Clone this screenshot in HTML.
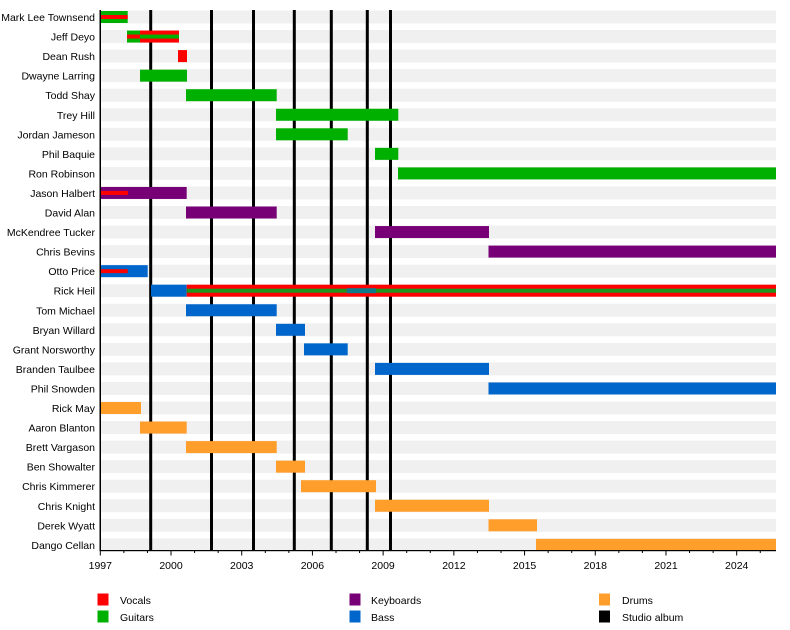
<!DOCTYPE html>
<html>
<head>
<meta charset="utf-8">
<style>
  html,body{margin:0;padding:0;background:#fff;}
  svg{display:block;}
  text{font-family:"Liberation Sans",Arial,sans-serif;font-size:10.5px;fill:#000;}
</style>
</head>
<body>
<svg width="790" height="630" viewBox="0 0 790 630" xmlns="http://www.w3.org/2000/svg">
  <!-- background stripes -->
  <g fill="#f0f0f0">
    <rect x="100" y="10.5" width="676" height="13"/>
    <rect x="100" y="30.05" width="676" height="13"/>
    <rect x="100" y="49.6" width="676" height="13"/>
    <rect x="100" y="69.15" width="676" height="13"/>
    <rect x="100" y="88.7" width="676" height="13"/>
    <rect x="100" y="108.25" width="676" height="13"/>
    <rect x="100" y="127.8" width="676" height="13"/>
    <rect x="100" y="147.35" width="676" height="13"/>
    <rect x="100" y="166.9" width="676" height="13"/>
    <rect x="100" y="186.45" width="676" height="13"/>
    <rect x="100" y="206" width="676" height="13"/>
    <rect x="100" y="225.55" width="676" height="13"/>
    <rect x="100" y="245.1" width="676" height="13"/>
    <rect x="100" y="264.65" width="676" height="13"/>
    <rect x="100" y="284.2" width="676" height="13"/>
    <rect x="100" y="303.75" width="676" height="13"/>
    <rect x="100" y="323.3" width="676" height="13"/>
    <rect x="100" y="342.85" width="676" height="13"/>
    <rect x="100" y="362.4" width="676" height="13"/>
    <rect x="100" y="381.95" width="676" height="13"/>
    <rect x="100" y="401.5" width="676" height="13"/>
    <rect x="100" y="421.05" width="676" height="13"/>
    <rect x="100" y="440.6" width="676" height="13"/>
    <rect x="100" y="460.15" width="676" height="13"/>
    <rect x="100" y="479.7" width="676" height="13"/>
    <rect x="100" y="499.25" width="676" height="13"/>
    <rect x="100" y="518.8" width="676" height="13"/>
    <rect x="100" y="538.35" width="676" height="13"/>
  </g>

  <!-- studio album lines -->
  <g fill="#000">
    <rect x="149.2" y="10" width="3" height="540"/>
    <rect x="210" y="10" width="3" height="540"/>
    <rect x="252" y="10" width="3" height="540"/>
    <rect x="292.8" y="10" width="3" height="540"/>
    <rect x="329.8" y="10" width="3" height="540"/>
    <rect x="365.8" y="10" width="3" height="540"/>
    <rect x="389" y="10" width="3" height="540"/>
  </g>

  <!-- bars -->
  <rect x="100" y="11" width="27.7" height="12" fill="#00b000"/>
  <rect x="100" y="15" width="27.7" height="4" fill="#ff0000"/>
  <rect x="127" y="30.55" width="13" height="12" fill="#00b000"/>
  <rect x="127" y="34.55" width="13" height="4" fill="#ff0000"/>
  <rect x="140" y="30.55" width="39" height="12" fill="#ff0000"/>
  <rect x="140" y="34.55" width="39" height="4" fill="#00b000"/>
  <rect x="178" y="50.1" width="9" height="12" fill="#ff0000"/>
  <rect x="140" y="69.65" width="47" height="12" fill="#00b000"/>
  <rect x="186" y="89.2" width="90.7" height="12" fill="#00b000"/>
  <rect x="276" y="108.75" width="122.3" height="12" fill="#00b000"/>
  <rect x="276" y="128.3" width="71.7" height="12" fill="#00b000"/>
  <rect x="375" y="147.85" width="23.3" height="12" fill="#00b000"/>
  <rect x="398" y="167.4" width="378" height="12" fill="#00b000"/>
  <rect x="100" y="186.95" width="86.7" height="12" fill="#770077"/>
  <rect x="100" y="190.95" width="28" height="4" fill="#ff0000"/>
  <rect x="186" y="206.5" width="90.7" height="12" fill="#770077"/>
  <rect x="375" y="226.05" width="114" height="12" fill="#770077"/>
  <rect x="488.5" y="245.6" width="287.5" height="12" fill="#770077"/>
  <rect x="100" y="265.15" width="47.7" height="12" fill="#0066cc"/>
  <rect x="100" y="269.15" width="27.7" height="4" fill="#ff0000"/>
  <rect x="151" y="284.7" width="35.7" height="12" fill="#0066cc"/>
  <rect x="186.7" y="284.7" width="589.3" height="12" fill="#ff0000"/>
  <rect x="186.7" y="288.7" width="160" height="4" fill="#1e961e"/>
  <rect x="346.7" y="288.2" width="29.3" height="5" fill="#0f7a8a"/>
  <rect x="376" y="288.7" width="400" height="4" fill="#1e961e"/>
  <rect x="186" y="304.25" width="90.7" height="12" fill="#0066cc"/>
  <rect x="276" y="323.8" width="29" height="12" fill="#0066cc"/>
  <rect x="304" y="343.35" width="43.7" height="12" fill="#0066cc"/>
  <rect x="375" y="362.9" width="114" height="12" fill="#0066cc"/>
  <rect x="488.5" y="382.45" width="287.5" height="12" fill="#0066cc"/>
  <rect x="100" y="402" width="41" height="12" fill="#ff9e2a"/>
  <rect x="140" y="421.55" width="46.7" height="12" fill="#ff9e2a"/>
  <rect x="186" y="441.1" width="90.7" height="12" fill="#ff9e2a"/>
  <rect x="276" y="460.65" width="29" height="12" fill="#ff9e2a"/>
  <rect x="301" y="480.2" width="75" height="12" fill="#ff9e2a"/>
  <rect x="375" y="499.75" width="114" height="12" fill="#ff9e2a"/>
  <rect x="488.5" y="519.3" width="48.5" height="12" fill="#ff9e2a"/>
  <rect x="536" y="538.85" width="240" height="12" fill="#ff9e2a"/>

  <!-- axes -->
  <rect x="99.5" y="10" width="1.5" height="541" fill="#000"/>
  <rect x="99.5" y="550" width="676.5" height="1.2" fill="#000"/>
  <g stroke="#000" stroke-width="1">
    <line x1="100.3" y1="550" x2="100.3" y2="555.5"/>
    <line x1="123.87" y1="550" x2="123.87" y2="553"/>
    <line x1="147.44" y1="550" x2="147.44" y2="553"/>
    <line x1="171.01" y1="550" x2="171.01" y2="555.5"/>
    <line x1="194.58" y1="550" x2="194.58" y2="553"/>
    <line x1="218.15" y1="550" x2="218.15" y2="553"/>
    <line x1="241.72" y1="550" x2="241.72" y2="555.5"/>
    <line x1="265.29" y1="550" x2="265.29" y2="553"/>
    <line x1="288.86" y1="550" x2="288.86" y2="553"/>
    <line x1="312.43" y1="550" x2="312.43" y2="555.5"/>
    <line x1="336" y1="550" x2="336" y2="553"/>
    <line x1="359.57" y1="550" x2="359.57" y2="553"/>
    <line x1="383.14" y1="550" x2="383.14" y2="555.5"/>
    <line x1="406.71" y1="550" x2="406.71" y2="553"/>
    <line x1="430.28" y1="550" x2="430.28" y2="553"/>
    <line x1="453.85" y1="550" x2="453.85" y2="555.5"/>
    <line x1="477.42" y1="550" x2="477.42" y2="553"/>
    <line x1="500.99" y1="550" x2="500.99" y2="553"/>
    <line x1="524.56" y1="550" x2="524.56" y2="555.5"/>
    <line x1="548.13" y1="550" x2="548.13" y2="553"/>
    <line x1="571.7" y1="550" x2="571.7" y2="553"/>
    <line x1="595.27" y1="550" x2="595.27" y2="555.5"/>
    <line x1="618.84" y1="550" x2="618.84" y2="553"/>
    <line x1="642.41" y1="550" x2="642.41" y2="553"/>
    <line x1="665.98" y1="550" x2="665.98" y2="555.5"/>
    <line x1="689.55" y1="550" x2="689.55" y2="553"/>
    <line x1="713.12" y1="550" x2="713.12" y2="553"/>
    <line x1="736.69" y1="550" x2="736.69" y2="555.5"/>
    <line x1="760.26" y1="550" x2="760.26" y2="553"/>
  </g>
  <g text-anchor="middle">
    <text x="100.3" y="569">1997</text>
    <text x="171" y="569">2000</text>
    <text x="241.7" y="569">2003</text>
    <text x="312.4" y="569">2006</text>
    <text x="383.1" y="569">2009</text>
    <text x="453.9" y="569">2012</text>
    <text x="524.6" y="569">2015</text>
    <text x="595.3" y="569">2018</text>
    <text x="666" y="569">2021</text>
    <text x="736.7" y="569">2024</text>
  </g>

  <!-- row labels -->
  <g text-anchor="end">
    <text x="95" y="21">Mark Lee Townsend</text>
    <text x="95" y="40.55">Jeff Deyo</text>
    <text x="95" y="60.1">Dean Rush</text>
    <text x="95" y="79.65">Dwayne Larring</text>
    <text x="95" y="99.2">Todd Shay</text>
    <text x="95" y="118.75">Trey Hill</text>
    <text x="95" y="138.3">Jordan Jameson</text>
    <text x="95" y="157.85">Phil Baquie</text>
    <text x="95" y="177.4">Ron Robinson</text>
    <text x="95" y="196.95">Jason Halbert</text>
    <text x="95" y="216.5">David Alan</text>
    <text x="95" y="236.05">McKendree Tucker</text>
    <text x="95" y="255.6">Chris Bevins</text>
    <text x="95" y="275.15">Otto Price</text>
    <text x="95" y="294.7">Rick Heil</text>
    <text x="95" y="314.25">Tom Michael</text>
    <text x="95" y="333.8">Bryan Willard</text>
    <text x="95" y="353.35">Grant Norsworthy</text>
    <text x="95" y="372.9">Branden Taulbee</text>
    <text x="95" y="392.45">Phil Snowden</text>
    <text x="95" y="412">Rick May</text>
    <text x="95" y="431.55">Aaron Blanton</text>
    <text x="95" y="451.1">Brett Vargason</text>
    <text x="95" y="470.65">Ben Showalter</text>
    <text x="95" y="490.2">Chris Kimmerer</text>
    <text x="95" y="509.75">Chris Knight</text>
    <text x="95" y="529.3">Derek Wyatt</text>
    <text x="95" y="548.85">Dango Cellan</text>
  </g>

  <!-- legend -->
  <rect x="97.5" y="593.5" width="11" height="12" fill="#ff0000"/>
  <text x="120" y="604">Vocals</text>
  <rect x="97.5" y="610.5" width="11" height="12" fill="#00b000"/>
  <text x="120" y="621">Guitars</text>

  <rect x="349.5" y="593.5" width="11" height="12" fill="#770077"/>
  <text x="371" y="604">Keyboards</text>
  <rect x="349.5" y="610.5" width="11" height="12" fill="#0066cc"/>
  <text x="371" y="621">Bass</text>

  <rect x="599" y="593.5" width="11" height="12" fill="#ff9e2a"/>
  <text x="622" y="604">Drums</text>
  <rect x="599" y="610.5" width="11" height="12" fill="#000"/>
  <text x="622" y="621">Studio album</text>
</svg>
</body>
</html>
